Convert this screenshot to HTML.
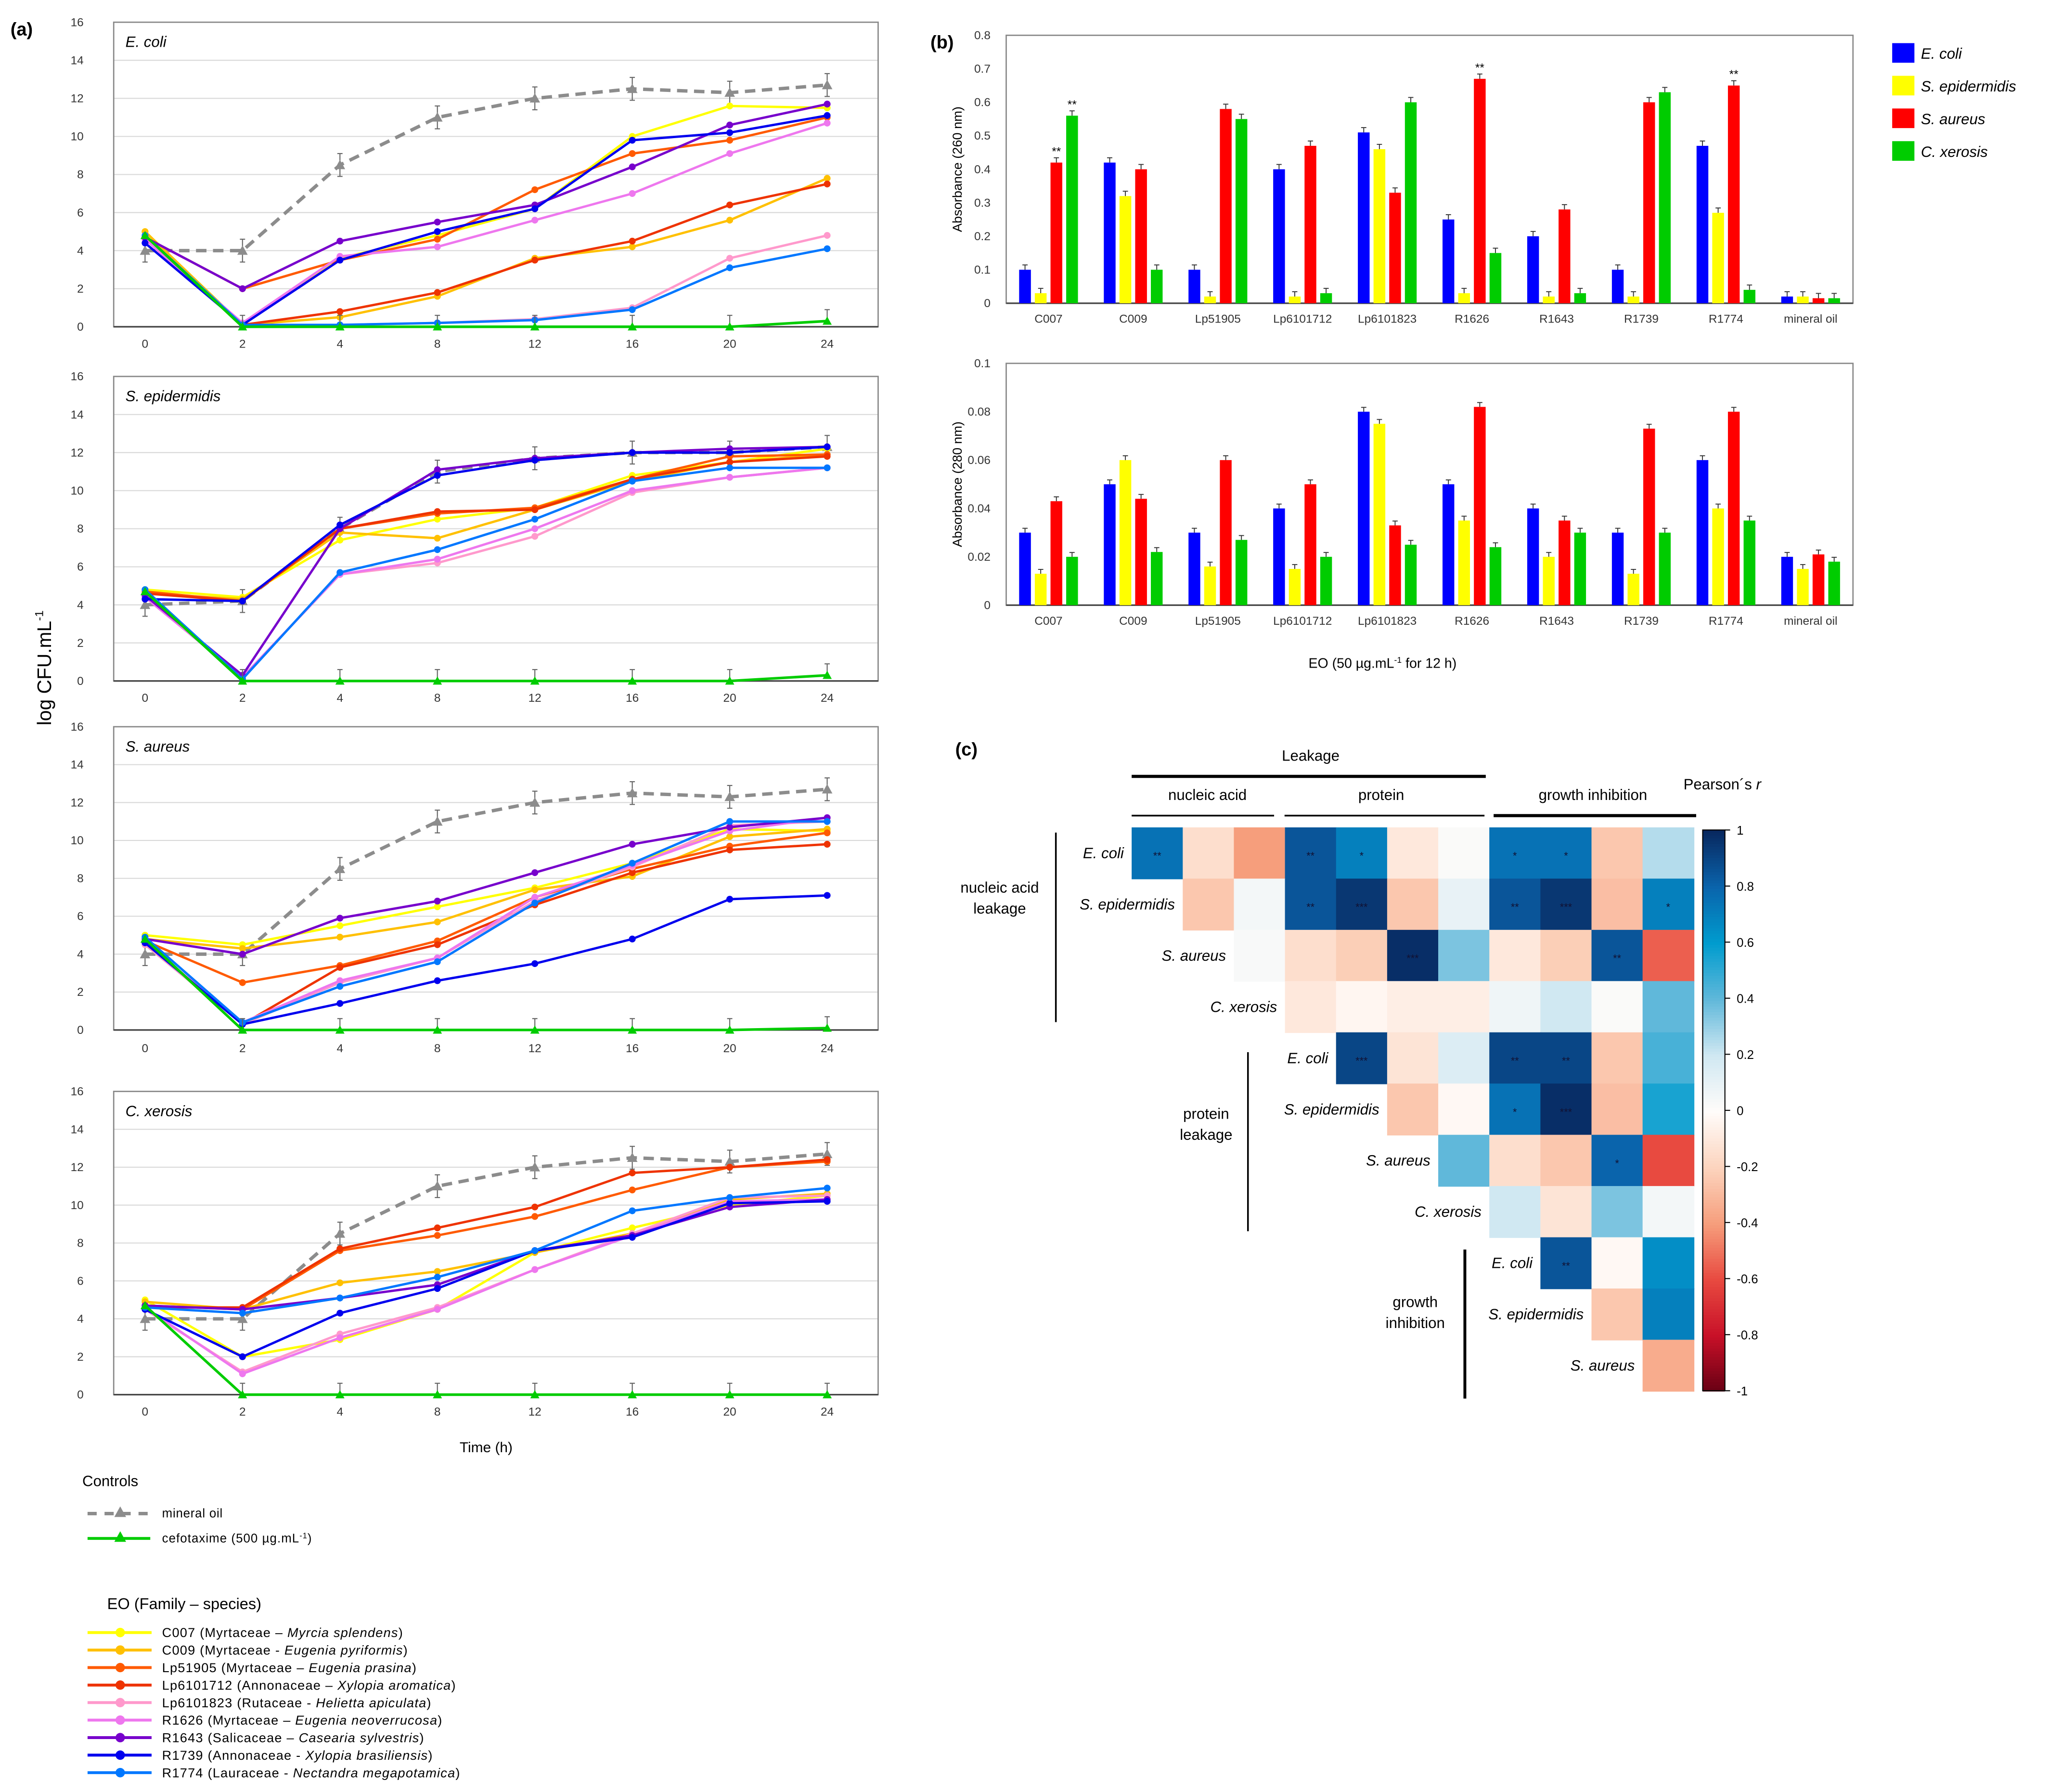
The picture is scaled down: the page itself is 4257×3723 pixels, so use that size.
<!DOCTYPE html>
<html><head><meta charset="utf-8"><style>
html,body{margin:0;padding:0;background:#fff;}
svg{display:block;font-family:"Liberation Sans",Arial,sans-serif;}
</style></head><body>
<svg id="fig" xmlns="http://www.w3.org/2000/svg" width="4257" height="3723" viewBox="0 0 1568 1371" preserveAspectRatio="none">
<rect x="0" y="0" width="1568" height="1371" fill="#fff"/>
</svg>
<script>
// ---------- Panel (a) data ----------
const timeLabels = ["0","2","4","8","12","16","20","24"];
const eoNames = ["C007","C009","Lp51905","Lp6101712","Lp6101823","R1626","R1643","R1739","R1774"];
const eoColors = ["#ffff00","#ffc000","#ff5a00","#ee3300","#ff99cc","#ee77ee","#7700cc","#0000ee","#0077ff"];
const yTicksA = [0,2,4,6,8,10,12,14,16];

const ec_mineral = [4,4,8.5,11,12,12.5,12.3,12.7];
const ec_cef = [4.8,0,0,0,0,0,0,0.3];
const ec_C007 = [5,0.1,3.6,4.8,6.2,10,11.6,11.5];
const ec_C009 = [5,0.1,0.5,1.6,3.6,4.2,5.6,7.8];
const ec_Lp51905 = [4.7,2,3.5,4.6,7.2,9.1,9.8,11];
const ec_Lp6101712 = [4.7,0.1,0.8,1.8,3.5,4.5,6.4,7.5];
const ec_Lp6101823 = [4.6,0.1,0.1,0.2,0.4,1.0,3.6,4.8];
const ec_R1626 = [4.6,0.2,3.7,4.2,5.6,7.0,9.1,10.7];
const ec_R1643 = [4.7,2,4.5,5.5,6.4,8.4,10.6,11.7];
const ec_R1739 = [4.4,0.1,3.5,5.0,6.2,9.8,10.2,11.1];
const ec_R1774 = [4.8,0.1,0.1,0.2,0.35,0.9,3.1,4.1];

const se_mineral = [4,4.2,8,11,11.7,12,12,12.3];
const se_cef = [4.7,0,0,0,0,0,0,0.3];
const se_C007 = [4.8,4.4,7.4,8.5,9.1,10.8,11.5,12.2];
const se_C009 = [4.6,4.3,7.8,7.5,9.0,10.5,11.5,11.9];
const se_Lp51905 = [4.7,4.2,8.0,8.8,9.1,10.6,11.8,11.9];
const se_Lp6101712 = [4.6,4.2,8.0,8.9,9.0,10.6,11.5,11.8];
const se_Lp6101823 = [4.5,0.2,5.6,6.2,7.6,9.9,10.7,11.2];
const se_R1626 = [4.4,0.2,5.6,6.4,8.0,10.0,10.7,11.2];
const se_R1643 = [4.5,0.3,8.0,11.1,11.7,12.0,12.2,12.3];
const se_R1739 = [4.3,4.2,8.2,10.8,11.6,12.0,12.0,12.3];
const se_R1774 = [4.8,0.1,5.7,6.9,8.5,10.5,11.2,11.2];

const sa_mineral = [4,4,8.5,11,12,12.5,12.3,12.7];
const sa_cef = [4.8,0,0,0,0,0,0,0.1];
const sa_C007 = [5,4.5,5.5,6.5,7.5,8.8,10.6,10.5];
const sa_C009 = [4.8,4.3,4.9,5.7,7.4,8.1,10.2,10.6];
const sa_Lp51905 = [4.7,2.5,3.4,4.7,7.0,8.5,9.7,10.4];
const sa_Lp6101712 = [4.6,0.3,3.3,4.5,6.6,8.3,9.5,9.8];
const sa_Lp6101823 = [4.5,0.3,2.5,3.8,6.8,8.6,10.8,11.0];
const sa_R1626 = [4.6,0.4,2.6,3.8,7.0,8.7,10.5,11.2];
const sa_R1643 = [4.8,4.0,5.9,6.8,8.3,9.8,10.7,11.2];
const sa_R1739 = [4.6,0.3,1.4,2.6,3.5,4.8,6.9,7.1];
const sa_R1774 = [4.9,0.4,2.3,3.6,6.7,8.8,11.0,11.0];

const cx_mineral = [4,4,8.5,11,12,12.5,12.3,12.7];
const cx_cef = [4.7,0,0,0,0,0,0,0];
const cx_C007 = [5,2,2.9,4.5,7.5,8.8,10.0,10.5];
const cx_C009 = [4.9,4.5,5.9,6.5,7.5,8.5,10.3,10.6];
const cx_Lp51905 = [4.7,4.5,7.6,8.4,9.4,10.8,12.0,12.3];
const cx_Lp6101712 = [4.6,4.6,7.7,8.8,9.9,11.7,12.0,12.4];
const cx_Lp6101823 = [4.5,1.2,3.2,4.6,6.6,8.5,10.4,10.5];
const cx_R1626 = [4.6,1.1,3.0,4.5,6.6,8.4,10.2,10.3];
const cx_R1643 = [4.7,4.5,5.1,5.8,7.6,8.4,9.9,10.3];
const cx_R1739 = [4.5,2.0,4.3,5.6,7.6,8.3,10.1,10.2];
const cx_R1774 = [4.6,4.3,5.1,6.2,7.6,9.7,10.4,10.9];

// ---------- Panel (b) data ----------
const bCategories = ["C007","C009","Lp51905","Lp6101712","Lp6101823","R1626","R1643","R1739","R1774","mineral oil"];
const bSeriesNames = ["E. coli","S. epidermidis","S. aureus","C. xerosis"];
const bColors = ["#0000ff","#ffff00","#ff0000","#00cc00"];
const nuc_Ecoli = [0.10,0.42,0.10,0.40,0.51,0.25,0.20,0.10,0.47,0.02];
const nuc_Sepi = [0.03,0.32,0.02,0.02,0.46,0.03,0.02,0.02,0.27,0.02];
const nuc_Saur = [0.42,0.40,0.58,0.47,0.33,0.67,0.28,0.60,0.65,0.015];
const nuc_Cxer = [0.56,0.10,0.55,0.03,0.60,0.15,0.03,0.63,0.04,0.015];
const nucTicks = [0,0.1,0.2,0.3,0.4,0.5,0.6,0.7,0.8];
const prot_Ecoli = [0.03,0.05,0.03,0.04,0.08,0.05,0.04,0.03,0.06,0.02];
const prot_Sepi = [0.013,0.06,0.016,0.015,0.075,0.035,0.02,0.013,0.04,0.015];
const prot_Saur = [0.043,0.044,0.06,0.05,0.033,0.082,0.035,0.073,0.08,0.021];
const prot_Cxer = [0.02,0.022,0.027,0.02,0.025,0.024,0.03,0.03,0.035,0.018];
const protTicks = [0,0.02,0.04,0.06,0.08,0.1];

// ---------- Panel (c) data ----------
const hmRowLabels = ["E. coli","S. epidermidis","S. aureus","C. xerosis","E. coli","S. epidermidis","S. aureus","C. xerosis","E. coli","S. epidermidis","S. aureus"];
const hmRow0 = [0.75,-0.15,-0.4,0.85,0.7,-0.1,0.02,0.75,0.75,-0.25,0.25];
const hmRow1 = [-0.25,0.05,0.85,0.95,-0.25,0.1,0.85,0.95,-0.28,0.7];
const hmRow2 = [0.03,-0.15,-0.22,0.98,0.35,-0.1,-0.22,0.85,-0.55];
const hmRow3 = [-0.1,-0.03,-0.07,-0.07,0.07,0.2,0.02,0.4];
const hmRow4 = [0.9,-0.12,0.15,0.9,0.9,-0.25,0.45];
const hmRow5 = [-0.25,-0.02,0.75,0.98,-0.28,0.55];
const hmRow6 = [0.4,-0.15,-0.25,0.8,-0.6];
const hmRow7 = [0.2,-0.12,0.35,0.05];
const hmRow8 = [0.85,-0.02,0.65];
const hmRow9 = [-0.25,0.7];
const hmRow10 = [-0.35];
const hmStars0 = ["**","","","**","*","","","*","*","",""];
const hmStars1 = ["","","**","***","","","**","***","","*"];
const hmStars2 = ["","","","***","","","","**",""];
const hmStars3 = ["","","","","","","",""];
const hmStars4 = ["***","","","**","**","",""];
const hmStars5 = ["","","*","***","",""];
const hmStars6 = ["","","","*",""];
const hmStars7 = ["","","",""];
const hmStars8 = ["**","",""];
const hmStars9 = ["",""];
const hmStars10 = [""];
const cbTicks = [1,0.8,0.6,0.4,0.2,0,-0.2,-0.4,-0.6,-0.8,-1];

// ---------- helpers ----------
const NS = "http://www.w3.org/2000/svg";
const svg = document.getElementById("fig");
function mk(tag, attrs, parent){
  const e = document.createElementNS(NS, tag);
  for (const k in attrs) e.setAttribute(k, attrs[k]);
  (parent||svg).appendChild(e);
  return e;
}
function txt(str, x, y, size, parent, extra){
  const a = {x:x, y:y, "font-size":size, fill:"#000"};
  if (extra) for (const k in extra) a[k] = extra[k];
  const t = mk("text", a, parent);
  t.textContent = str;
  return t;
}

// ---------- Panel (a) ----------
const aPanels = [
  {title:"E. coli", top:17, bot:250, lab:263, pre:"ec"},
  {title:"S. epidermidis", top:288, bot:521, lab:534, pre:"se"},
  {title:"S. aureus", top:556, bot:788, lab:802, pre:"sa"},
  {title:"C. xerosis", top:835, bot:1067, lab:1080, pre:"cx"}
];
const seriesByPanel = {
  ec:[ec_C007,ec_C009,ec_Lp51905,ec_Lp6101712,ec_Lp6101823,ec_R1626,ec_R1643,ec_R1739,ec_R1774],
  se:[se_C007,se_C009,se_Lp51905,se_Lp6101712,se_Lp6101823,se_R1626,se_R1643,se_R1739,se_R1774],
  sa:[sa_C007,sa_C009,sa_Lp51905,sa_Lp6101712,sa_Lp6101823,sa_R1626,sa_R1643,sa_R1739,sa_R1774],
  cx:[cx_C007,cx_C009,cx_Lp51905,cx_Lp6101712,cx_Lp6101823,cx_R1626,cx_R1643,cx_R1739,cx_R1774]
};
const mineralByPanel = {ec:ec_mineral, se:se_mineral, sa:sa_mineral, cx:cx_mineral};
const cefByPanel = {ec:ec_cef, se:se_cef, sa:sa_cef, cx:cx_cef};
const AX0 = 87, AX1 = 672;
function ax(i){ return 111 + i*(633-111)/(timeLabels.length-1); }

function tri(g, x, y, col, sz){
  return mk("polygon", {points:`${x},${y-sz} ${x-sz},${y+sz*0.8} ${x+sz},${y+sz*0.8}`, fill:col}, g);
}

aPanels.forEach((p, pi) => {
  const g = mk("g", {});
  
  
  const ay = v => p.bot - v/16*(p.bot - p.top);
  yTicksA.forEach(v => {
    if (v > 0) mk("line", {x1:AX0, x2:AX1, y1:ay(v), y2:ay(v), stroke:"#d9d9d9", "stroke-width":0.8}, g);
    const t = txt(String(v), 64, ay(v)+3, 9, g, {"text-anchor":"end", fill:"#333"});
    
    
  });
  mk("rect", {x:AX0, y:p.top, width:AX1-AX0, height:p.bot-p.top, fill:"none", stroke:"#888", "stroke-width":1}, g);
  mk("line", {x1:AX0, x2:AX1, y1:p.bot, y2:p.bot, stroke:"#444", "stroke-width":1.2}, g);
  timeLabels.forEach((l, i) => {
    const t = txt(l, ax(i), p.lab+3, 9, g, {"text-anchor":"middle", fill:"#333"});
    
    
  });
  const tt = txt(p.title, 96, p.top+19, 11.5, g, {"font-style":"italic"});
  
  

  const mo = mineralByPanel[p.pre];
  const mg = mk("g", {}, g);
  
  
  mo.forEach((v, i) => {
    mk("line", {x1:ax(i), x2:ax(i), y1:ay(v+0.6), y2:ay(v-0.6), stroke:"#666", "stroke-width":0.8}, mg);
    mk("line", {x1:ax(i)-2, x2:ax(i)+2, y1:ay(v+0.6), y2:ay(v+0.6), stroke:"#666", "stroke-width":0.8}, mg);
    mk("line", {x1:ax(i)-2, x2:ax(i)+2, y1:ay(v-0.6), y2:ay(v-0.6), stroke:"#666", "stroke-width":0.8}, mg);
  });
  mk("polyline", {points: mo.map((v,i)=>ax(i)+","+ay(v)).join(" "), fill:"none", stroke:"#8c8c8c", "stroke-width":2.6, "stroke-dasharray":"8,5"}, mg);
  mo.forEach((v,i)=>tri(mg, ax(i), ay(v), "#8c8c8c", 4));

  seriesByPanel[p.pre].forEach((arr, si) => {
    const sg = mk("g", {}, g);
    
    
    mk("polyline", {points: arr.map((v,i)=>ax(i)+","+ay(v)).join(" "), fill:"none", stroke:eoColors[si], "stroke-width":1.8}, sg);
    arr.forEach((v,i)=>{
      const c = mk("circle", {cx:ax(i), cy:ay(v), r:2.6, fill:eoColors[si]}, sg);
      
      
    });
  });

  const cf = cefByPanel[p.pre];
  const cg = mk("g", {}, g);
  
  
  cf.forEach((v,i)=>{
    if (i>0) {
      mk("line", {x1:ax(i), x2:ax(i), y1:ay(v+0.6), y2:ay(v), stroke:"#666", "stroke-width":0.8}, cg);
      mk("line", {x1:ax(i)-2, x2:ax(i)+2, y1:ay(v+0.6), y2:ay(v+0.6), stroke:"#666", "stroke-width":0.8}, cg);
    }
  });
  mk("polyline", {points: cf.map((v,i)=>ax(i)+","+ay(v)).join(" "), fill:"none", stroke:"#00cc00", "stroke-width":2}, cg);
  cf.forEach((v,i)=>tri(cg, ax(i), ay(v), "#00cc00", 3.5));
});

const ylab = txt("log CFU.mL", 0, 0, 15, svg, {transform:"translate(39,555) rotate(-90)"});


const ysup = mk("tspan", {"font-size":9, dy:-6}, ylab); ysup.textContent = "-1";
const xlab = txt("Time (h)", 372, 1111, 11, svg, {"text-anchor":"middle"});


const pa = txt("(a)", 8, 27, 14, svg, {"font-weight":"bold"});



const lg = mk("g", {});


txt("Controls", 63, 1137, 11.5, lg);
mk("line", {x1:67, x2:115, y1:1158, y2:1158, stroke:"#8c8c8c", "stroke-width":2.6, "stroke-dasharray":"7,6"}, lg);
tri(lg, 92, 1157, "#8c8c8c", 4.5);
txt("mineral oil", 124, 1161, 9.5, lg, {"letter-spacing":0.3});
mk("line", {x1:67, x2:115, y1:1177, y2:1177, stroke:"#00cc00", "stroke-width":2.2}, lg);
tri(lg, 92, 1176, "#00cc00", 4.5);
const cefT = txt("cefotaxime (500 µg.mL", 124, 1180, 9.5, lg, {"letter-spacing":0.4});
const cs = mk("tspan", {"font-size":6, dy:-3}, cefT); cs.textContent = "-1";
const cs2 = mk("tspan", {dy:3}, cefT); cs2.textContent = ")";
txt("EO (Family – species)", 82, 1231, 12, lg);
const eoFam = [
  ["C007 (Myrtaceae – ","Myrcia  splendens",")"],
  ["C009 (Myrtaceae - ","Eugenia pyriformis",")"],
  ["Lp51905 (Myrtaceae – ","Eugenia prasina",")"],
  ["Lp6101712 (Annonaceae – ","Xylopia aromatica",")"],
  ["Lp6101823 (Rutaceae - ","Helietta apiculata",")"],
  ["R1626 (Myrtaceae – ","Eugenia neoverrucosa",")"],
  ["R1643 (Salicaceae – ","Casearia sylvestris",")"],
  ["R1739 (Annonaceae - ","Xylopia brasiliensis",")"],
  ["R1774 (Lauraceae - ","Nectandra megapotamica",")"]
];
eoFam.forEach((f, i) => {
  const y = 1249 + i*13.4;
  const eg = mk("g", {}, lg);
  
  
  mk("line", {x1:67, x2:116, y1:y, y2:y, stroke:eoColors[i], "stroke-width":2.2}, eg);
  mk("circle", {cx:92, cy:y, r:3.6, fill:eoColors[i]}, eg);
  const t = txt(f[0], 124, y+3.5, 10, eg, {"letter-spacing":0.45});
  const it = mk("tspan", {"font-style":"italic"}, t); it.textContent = f[1];
  const e2 = mk("tspan", {}, t); e2.textContent = f[2];
});

// ---------- Panel (b) ----------
const BX0 = 770, BX1 = 1418;
function bx(i){ return BX0 + (i+0.5)*(BX1-BX0)/bCategories.length; }
function barChart(name, top, bot, ticks, maxV, series, labY, ytitle, stars){
  const g = mk("g", {});
  
  
  const by = v => bot - v/maxV*(bot-top);
  mk("rect", {x:BX0, y:top, width:BX1-BX0, height:bot-top, fill:"none", stroke:"#888", "stroke-width":1}, g);
  ticks.forEach(v => {
    txt(String(v), 758, by(v)+3, 9, g, {"text-anchor":"end", fill:"#333"});
  });
  mk("line", {x1:BX0, x2:BX1, y1:bot, y2:bot, stroke:"#444", "stroke-width":1.2}, g);
  bCategories.forEach((c, i) => {
    const t = txt(c, bx(i), labY, 9, g, {"text-anchor":"middle", fill:"#333"});
    
    
    series.forEach((arr, si) => {
      const x = bx(i) - 24 + si*12 + 1.5;
      const v = arr[i];
      const r = mk("rect", {x:x, y:by(v), width:9, height:bot-by(v), fill:bColors[si]}, g);
      
      
      const e = maxV*0.018;
      mk("line", {x1:x+4.5, x2:x+4.5, y1:by(v+e), y2:by(v), stroke:"#333", "stroke-width":0.7}, g);
      mk("line", {x1:x+2.5, x2:x+6.5, y1:by(v+e), y2:by(v+e), stroke:"#333", "stroke-width":0.7}, g);
      if (stars && stars[si] && stars[si][i]) txt(stars[si][i], x+4.5, by(v+e)-2, 9, g, {"text-anchor":"middle"});
    });
  });
  txt(ytitle, 0, 0, 10, g, {transform:`translate(736,${(top+bot)/2}) rotate(-90)`, "text-anchor":"middle"});
}
const nucStars = [[],[],["**","","","","","**","","","**",""],["**","","","","","","","","",""]];
barChart("nucleic-acid-chart", 27, 232, nucTicks, 0.8, [nuc_Ecoli,nuc_Sepi,nuc_Saur,nuc_Cxer], 247, "Absorbance (260 nm)", nucStars);
barChart("protein-chart", 278, 463, protTicks, 0.1, [prot_Ecoli,prot_Sepi,prot_Saur,prot_Cxer], 478, "Absorbance (280 nm)", null);
const bx2 = txt("EO (50 µg.mL", 1058, 511, 10.5, svg, {"text-anchor":"middle"});


const bs1 = mk("tspan", {"font-size":6.5, dy:-4}, bx2); bs1.textContent = "-1";
const bs2 = mk("tspan", {dy:4}, bx2); bs2.textContent = " for 12 h)";
const pb = txt("(b)", 712, 37, 14, svg, {"font-weight":"bold"});


bSeriesNames.forEach((n, i) => {
  const g = mk("g", {});
  
  
  mk("rect", {x:1448, y:33+i*25, width:17, height:15, fill:bColors[i]}, g);
  txt(n, 1470, 45+i*25, 11.5, g, {"font-style":"italic"});
});

// ---------- Panel (c) ----------
const stops = [[-1,[103,0,20]],[-0.8,[200,16,40]],[-0.6,[232,74,64]],[-0.4,[246,158,124]],[-0.2,[252,212,190]],[0,[255,252,250]],[0.2,[208,232,242]],[0.4,[96,184,218]],[0.6,[0,156,206]],[0.8,[10,100,172]],[1,[8,40,95]]];
function rdbu(v){
  for (let k=0;k<stops.length-1;k++){
    const a=stops[k], b=stops[k+1];
    if (v>=a[0] && v<=b[0]){
      const t=(v-a[0])/(b[0]-a[0]);
      const c=a[1].map((x,j)=>Math.round(x+(b[1][j]-x)*t));
      return `rgb(${c[0]},${c[1]},${c[2]})`;
    }
  }
  return v<0?"rgb(103,0,20)":"rgb(8,40,95)";
}
const HX0 = 866, HY0 = 633, CW = 39.1, CH = 39.2;
const hmRows = [hmRow0,hmRow1,hmRow2,hmRow3,hmRow4,hmRow5,hmRow6,hmRow7,hmRow8,hmRow9,hmRow10];
const hmStars = [hmStars0,hmStars1,hmStars2,hmStars3,hmStars4,hmStars5,hmStars6,hmStars7,hmStars8,hmStars9,hmStars10];
const hg = mk("g", {});


hmRows.forEach((row, r) => {
  const start = 11 - row.length;
  row.forEach((v, k) => {
    const c = start + k;
    const cell = mk("rect", {x:HX0+c*CW, y:HY0+r*CH, width:CW+0.5, height:CH+0.5, fill:rdbu(v)}, hg);
    
    
    const s = hmStars[r][k];
    if (s) txt(s, HX0+c*CW+CW/2, HY0+r*CH+CH/2+5, 8, hg, {"text-anchor":"middle", fill:"#113"});
  });
  const lt = txt(hmRowLabels[r], HX0+start*CW-6, HY0+r*CH+CH/2+4, 11.5, hg, {"text-anchor":"end", "font-style":"italic"});
  
  
});
const ann = mk("g", {});


txt("Leakage", 1003, 582, 11.5, ann, {"text-anchor":"middle"});
mk("line", {x1:866, x2:1137, y1:594, y2:594, stroke:"#000", "stroke-width":2.4}, ann);
txt("nucleic acid", 924, 612, 11.5, ann, {"text-anchor":"middle"});
mk("line", {x1:866, x2:975, y1:624, y2:624, stroke:"#000", "stroke-width":1.3}, ann);
txt("protein", 1057, 612, 11.5, ann, {"text-anchor":"middle"});
mk("line", {x1:983, x2:1136, y1:624, y2:624, stroke:"#000", "stroke-width":1.3}, ann);
txt("growth inhibition", 1219, 612, 11.5, ann, {"text-anchor":"middle"});
mk("line", {x1:1143, x2:1298, y1:624, y2:624, stroke:"#000", "stroke-width":2.4}, ann);
const pr = txt("Pearson´s ", 1318, 604, 11.5, ann, {"text-anchor":"middle"});
const prr = mk("tspan", {"font-style":"italic"}, pr); prr.textContent = "r";
txt("nucleic acid", 765, 683, 11.5, ann, {"text-anchor":"middle"});
txt("leakage", 765, 699, 11.5, ann, {"text-anchor":"middle"});
mk("line", {x1:808, x2:808, y1:637, y2:782, stroke:"#000", "stroke-width":1.3}, ann);
txt("protein", 923, 856, 11.5, ann, {"text-anchor":"middle"});
txt("leakage", 923, 872, 11.5, ann, {"text-anchor":"middle"});
mk("line", {x1:955, x2:955, y1:805, y2:942, stroke:"#000", "stroke-width":1.3}, ann);
txt("growth", 1083, 1000, 11.5, ann, {"text-anchor":"middle"});
txt("inhibition", 1083, 1016, 11.5, ann, {"text-anchor":"middle"});
mk("line", {x1:1121, x2:1121, y1:956, y2:1070, stroke:"#000", "stroke-width":2.2}, ann);
const pc = txt("(c)", 731, 578, 14, svg, {"font-weight":"bold"});


const cbg = mk("g", {});


const CB0 = 635, CB1 = 1064;
for (let k=0;k<200;k++){
  const v = 1 - 2*k/200;
  mk("rect", {x:1303, y:CB0+k*(CB1-CB0)/200, width:17, height:(CB1-CB0)/200+0.6, fill:rdbu(v)}, cbg);
}
mk("rect", {x:1303, y:CB0, width:17, height:CB1-CB0, fill:"none", stroke:"#000", "stroke-width":0.8}, cbg);
cbTicks.forEach(v => {
  const y = CB0 + (1-v)/2*(CB1-CB0);
  mk("line", {x1:1320, x2:1324, y1:y, y2:y, stroke:"#000", "stroke-width":0.8}, cbg);
  txt(String(v), 1329, y+3.5, 9.5, cbg);
});
</script>
</body></html>
